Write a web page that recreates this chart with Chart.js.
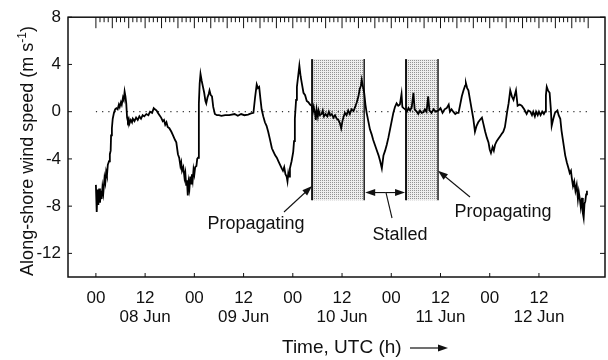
<!DOCTYPE html>
<html>
<head>
<meta charset="utf-8">
<script src="https://cdn.jsdelivr.net/npm/chart.js@4"></script>
<style>
  html, body { margin: 0; padding: 0; background: #fff; }
  #wrap { width: 608px; height: 360px; }
</style>
</head>
<body>
<div id="wrap"><canvas id="windChart" width="608" height="360"></canvas></div>
<script>
// Along-shore wind speed, hours after 08 Jun 00 UTC
const hours = [
  0.0, 0.2, 0.4, 0.6, 0.8, 1.0, 1.2, 1.4, 1.6, 1.8, 2.1, 2.3, 2.5, 2.7, 2.9, 3.2, 3.4, 3.6, 3.7, 3.9,
  4.1, 4.4, 4.7, 5.0, 5.3, 5.6, 5.8, 6.1, 6.3, 6.6, 6.8, 7.0, 7.2, 7.4, 7.6, 7.8, 8.0, 8.2, 8.5, 8.8,
  9.0, 9.4, 9.8, 10.2, 10.6, 11.0, 11.4, 11.8, 12.3, 12.8, 13.2, 13.7, 14.1, 14.4, 14.8, 15.1, 15.5, 15.9, 16.3, 16.6,
  16.9, 17.2, 17.5, 17.9, 18.4, 18.8, 19.3, 19.6, 20.0, 20.3, 20.6, 20.8, 21.0, 21.3, 21.6, 21.8, 22.0, 22.2, 22.4, 22.6,
  22.8, 23.0, 23.2, 23.4, 23.6, 23.8, 24.0, 24.2, 24.5, 24.7, 24.9, 25.1, 25.3, 25.5, 25.8, 26.1, 26.4, 26.7, 26.9, 27.2,
  27.5, 27.7, 28.0, 28.3, 28.6, 29.0, 29.5, 30.0, 30.6, 31.5, 32.5, 33.8, 34.6, 35.4, 36.2, 37.1, 37.8, 38.4, 38.8, 39.2,
  39.5, 39.8, 40.1, 40.4, 40.8, 41.2, 41.6, 42.0, 42.4, 42.9, 43.3, 43.7, 44.1, 44.5, 44.9, 45.3, 45.6, 45.9, 46.2, 46.5,
  46.7, 46.9, 47.1, 47.3, 47.7, 48.1, 48.3, 48.5, 48.8, 49.0, 49.3, 49.6, 49.9, 50.2, 50.6, 51.0, 51.4, 51.8, 52.2, 52.6,
  52.9, 53.1, 53.4, 53.6, 53.8, 54.1, 54.3, 54.6, 55.0, 55.3, 55.6, 56.0, 56.4, 56.8, 57.1, 57.5, 57.9, 58.3, 58.7, 59.1,
  59.5, 59.8, 60.1, 60.4, 60.7, 61.1, 61.5, 61.9, 62.3, 62.8, 63.2, 63.6, 64.0, 64.3, 64.6, 64.8, 65.1, 65.4, 65.7, 66.0,
  66.4, 66.8, 67.2, 67.6, 68.0, 68.4, 68.9, 69.3, 69.7, 70.1, 70.5, 70.9, 71.3, 71.7, 72.1, 72.5, 72.9, 73.3, 73.7, 74.1,
  74.5, 74.7, 75.0, 75.4, 75.8, 76.2, 76.6, 77.0, 77.4, 77.7, 78.2, 78.6, 79.0, 79.4, 79.8, 80.2, 80.6, 81.0, 81.3, 81.8,
  82.3, 82.8, 83.5, 84.0, 84.5, 85.0, 85.5, 86.0, 86.3, 86.7, 87.1, 87.6, 88.0, 88.4, 88.8, 89.2, 89.6, 90.0, 90.2, 90.5,
  90.8, 91.2, 91.6, 92.0, 92.4, 92.8, 93.2, 93.6, 94.1, 94.5, 94.9, 95.3, 95.7, 96.0, 96.3, 96.7, 97.0, 97.3, 97.7, 98.1,
  98.5, 98.9, 99.3, 99.7, 100.0, 100.3, 100.6, 101.0, 101.4, 101.8, 102.1, 102.4, 102.8, 103.3, 103.8, 104.4, 105.0, 105.4, 105.9, 106.3,
  106.6, 107.0, 107.3, 107.7, 108.0, 108.4, 108.8, 109.2, 109.5, 109.7, 109.9, 110.2, 110.6, 110.9, 111.1, 111.5, 111.9, 112.2, 112.5, 112.8,
  113.2, 113.5, 113.8, 114.1, 114.4, 114.8, 115.2, 115.5, 115.8, 116.0, 116.3, 116.6, 116.9, 117.2, 117.5, 117.7, 118.0, 118.2, 118.5, 118.7,
  118.9, 119.1, 119.3, 119.5, 119.7
];
const speed = [
  -6.2, -8.5, -6.6, -7.9, -6.5, -7.7, -6.7, -7.4, -6.4, -6.9, -5.6, -6.0, -5.1, -5.4, -4.5, -4.2, -3.6, -3.3, -2.0, -1.4,
  -0.6, -0.1, 0.2, 0.3, 0.2, 0.6, 0.4, 0.8, 0.6, 1.2, 1.0, 1.7, 1.3, 0.7, -0.5, -0.8, -0.6, -1.0, -0.7, -0.9,
  -0.6, -0.8, -0.5, -0.7, -0.4, -0.6, -0.3, -0.4, -0.2, -0.3, 0.0, -0.1, 0.3, 0.2, 0.1, -0.1, -0.3, -0.5, -0.8, -0.7,
  -1.1, -0.9, -1.3, -1.4, -1.7, -2.0, -2.4, -2.6, -3.6, -3.9, -4.6, -4.3, -5.0, -4.7, -5.6, -5.2, -6.2, -5.8, -7.1, -6.0,
  -6.5, -5.5, -6.1, -5.3, -5.8, -4.9, -5.3, -4.7, -4.6, -4.0, -3.9, 0.7, 2.4, 3.2, 2.6, 2.1, 1.6, 0.9, 0.7, 1.2,
  1.5, 1.8, 1.4, 1.3, 0.4, -0.2, -0.3, -0.3, -0.35, -0.3, -0.3, -0.2, -0.35, -0.2, -0.3, -0.25, -0.15, -0.1, 1.2, 2.3,
  2.0, 2.1, 1.1, 0.2, -0.4, -0.9, -1.2, -1.7, -2.3, -3.1, -3.4, -3.7, -3.9, -4.2, -4.5, -4.8, -5.0, -4.7, -5.3, -5.5,
  -5.9, -5.2, -5.5, -4.8, -4.2, -3.4, -2.5, -0.6, 1.0, 2.1, 3.0, 3.9, 3.0, 2.4, 1.6, 1.4, 0.9, 0.8, 0.6, 0.5,
  0.0, 0.4, -0.1, -0.7, 0.2, -0.4, 0.1, -0.3, -0.2, 0.1, -0.4, -0.2, -0.4, 0.0, -0.3, -0.2, -0.5, -0.3, -0.6, -0.7,
  -1.0, -1.4, -0.8, -0.4, -0.1, -0.3, 0.1, -0.2, 0.2, 0.05, 0.4, 0.8, 1.3, 1.9, 2.2, 2.7, 2.1, 1.6, 0.6, -0.1,
  -0.8, -1.5, -1.9, -2.4, -2.8, -3.2, -3.7, -4.2, -4.8, -3.7, -3.3, -2.8, -2.2, -1.5, -0.8, -0.1, 0.4, 0.7, 0.5, 0.6,
  1.5, 0.4, 0.3, 0.2, 0.0, 0.3, 0.1, 0.4, 1.6, 0.2, 0.0, -0.2, 0.1, -0.1, -0.05, 0.2, 0.0, 1.3, 0.1, -0.1,
  0.2, 0.0, 0.1, 0.3, -0.1, 0.2, 0.3, 0.6, 0.0, 0.2, 0.0, -0.2, -0.1, -0.1, 0.6, 1.3, 1.8, 2.2, 2.4, 2.0,
  1.8, 1.0, 0.2, -0.6, -1.7, -1.2, -0.9, -0.7, -0.5, -1.1, -1.7, -2.2, -2.6, -3.2, -3.5, -3.0, -3.3, -2.8, -2.5, -2.3,
  -2.1, -1.9, -1.7, -1.3, -0.6, 0.1, 0.7, 1.8, 1.3, 1.0, 1.4, 1.8, 0.5, 0.6, 0.5, 0.2, -0.2, 0.1, 0.0, -0.3,
  0.0, -0.4, 0.0, -0.3, 0.0, -0.3, 0.0, -0.2, 0.0, 1.4, 2.1, 1.8, 1.6, 0.2, -1.2, -0.6, -0.1, 0.0, 0.1, -0.3,
  -0.6, -1.6, -2.3, -3.0, -3.7, -4.3, -4.8, -5.2, -5.0, -5.6, -6.3, -5.9, -6.7, -6.2, -7.4, -6.8, -7.5, -8.1, -7.3, -8.6,
  -9.0, -7.8, -7.6, -7.0, -6.7
];

// shaded periods (hours) and their vertical extent (m/s)
const shadeStart = [52.7, 75.6];
const shadeEnd = [65.4, 83.4];
const shadeTop = 4.45;
const shadeBottom = -7.5;

const xTicks = [0, 12, 24, 36, 48, 60, 72, 84, 96, 108];
const hourLabels = ['00', '12', '00', '12', '00', '12', '00', '12', '00', '12'];
const dayLabels = ['', '08 Jun', '', '09 Jun', '', '10 Jun', '', '11 Jun', '', '12 Jun'];
const yTicks = [-12, -8, -4, 0, 4, 8];
const zeroLineSpan = [0, 119.7];

const FONT = '"Liberation Sans", Arial, Helvetica, sans-serif';
const INK = '#111';

function stipple() {
    const c = document.createElement('canvas');
    c.width = 2; c.height = 2;
    const g = c.getContext('2d');
    g.fillStyle = '#eeeeee';
    g.fillRect(0, 0, 2, 2);
    g.fillStyle = '#939393';
    g.fillRect(0, 0, 1, 1);
    return c;
}

function arrow(ctx, x1, y1, x2, y2) {
    const a = Math.atan2(y2 - y1, x2 - x1);
    const len = 10, w = 3.5;
    ctx.beginPath();
    ctx.moveTo(x1, y1);
    ctx.lineTo(x2 - Math.cos(a) * len * 0.8, y2 - Math.sin(a) * len * 0.8);
    ctx.stroke();
    ctx.beginPath();
    ctx.moveTo(x2, y2);
    ctx.lineTo(x2 - Math.cos(a) * len - Math.sin(a) * w, y2 - Math.sin(a) * len + Math.cos(a) * w);
    ctx.lineTo(x2 - Math.cos(a) * len + Math.sin(a) * w, y2 - Math.sin(a) * len - Math.cos(a) * w);
    ctx.closePath();
    ctx.fill();
}

const shadePlugin = {
    id: 'shade',
    beforeDatasetsDraw(chart) {
        const { ctx, scales: { x, y } } = chart;
        ctx.save();
        ctx.fillStyle = ctx.createPattern(stipple(), 'repeat');
        const yt = y.getPixelForValue(shadeTop), yb = y.getPixelForValue(shadeBottom);
        shadeStart.forEach((s, i) => {
            const xl = x.getPixelForValue(s), xr = x.getPixelForValue(shadeEnd[i]);
            ctx.fillRect(xl, yt, xr - xl, yb - yt);
            ctx.strokeStyle = INK;
            ctx.lineWidth = 2;
            ctx.beginPath(); ctx.moveTo(xl, yt); ctx.lineTo(xl, yb); ctx.stroke();
            ctx.lineWidth = 1.4;
            ctx.beginPath(); ctx.moveTo(xr, yt); ctx.lineTo(xr, yb); ctx.stroke();
        });
        ctx.restore();
    }
};

const framePlugin = {
    id: 'frame',
    afterDraw(chart) {
        const { ctx, chartArea: a, scales: { x, y } } = chart;
        ctx.save();
        ctx.strokeStyle = INK;
        ctx.fillStyle = INK;
        ctx.lineWidth = 1.5;
        ctx.strokeRect(a.left, a.top, a.right - a.left, a.bottom - a.top);

        // ticks pointing inward
        ctx.lineWidth = 1;
        ctx.beginPath();
        yTicks.forEach(v => {
            const py = y.getPixelForValue(v);
            ctx.moveTo(a.left, py); ctx.lineTo(a.left + 4, py);
            ctx.moveTo(a.right, py); ctx.lineTo(a.right - 5, py);
        });
        for (let h = 0; h <= 120; h++) {
            const px = x.getPixelForValue(h);
            ctx.moveTo(px, a.top);
            ctx.lineTo(px, a.top + (h % 4 === 0 ? 11 : 5));
        }
        xTicks.forEach(h => {
            const px = x.getPixelForValue(h);
            ctx.moveTo(px, a.bottom); ctx.lineTo(px, a.bottom - 4);
        });
        ctx.stroke();

        // y axis title with superscript
        ctx.font = '18px ' + FONT;
        const main = 'Along-shore wind speed (m s';
        ctx.save();
        ctx.font = '12px ' + FONT;
        const supW = ctx.measureText('-1').width;
        ctx.restore();
        const mainW = ctx.measureText(main).width;
        const closeW = ctx.measureText(')').width;
        const total = mainW + supW + closeW;
        ctx.save();
        ctx.translate(33, 151);
        ctx.rotate(-Math.PI / 2);
        ctx.textBaseline = 'alphabetic';
        ctx.textAlign = 'left';
        let sx = -total / 2;
        ctx.fillText(main, sx, 0);
        sx += mainW;
        ctx.font = '12px ' + FONT;
        ctx.fillText('-1', sx, -7);
        sx += supW;
        ctx.font = '18px ' + FONT;
        ctx.fillText(')', sx, 0);
        ctx.restore();

        // x axis title and arrow
        ctx.font = '19px ' + FONT;
        ctx.textBaseline = 'middle';
        ctx.textAlign = 'left';
        ctx.fillText('Time, UTC (h)', 282, 348);
        ctx.lineWidth = 1.2;
        arrow(ctx, 410, 348, 448, 348);

        // annotations
        const b1l = x.getPixelForValue(shadeStart[0]);
        const b1r = x.getPixelForValue(shadeEnd[0]);
        const b2l = x.getPixelForValue(shadeStart[1]);
        const b2r = x.getPixelForValue(shadeEnd[1]);
        ctx.font = '18px ' + FONT;
        ctx.textAlign = 'center';
        ctx.fillText('Propagating', 256, 224);
        ctx.fillText('Stalled', 400, 235);
        ctx.fillText('Propagating', 503, 212);
        ctx.lineWidth = 1.1;
        arrow(ctx, 284, 212, b1l, y.getPixelForValue(-6.3));
        arrow(ctx, 470, 197, b2r, y.getPixelForValue(-5.0));
        const ys = y.getPixelForValue(-6.85);
        const mid = (b1r + b2l) / 2;
        arrow(ctx, mid, ys, b1r + 1, ys);
        arrow(ctx, mid, ys, b2l - 1, ys);
        ctx.beginPath();
        ctx.moveTo(392, 218);
        ctx.lineTo(386, ys);
        ctx.stroke();
        ctx.restore();
    }
};

new Chart(document.getElementById('windChart'), {
    type: 'line',
    data: {
        datasets: [
            {
                data: hours.map((h, i) => ({ x: h, y: speed[i] })),
                borderColor: '#000',
                borderWidth: 1.8,
                pointRadius: 0,
                tension: 0
            },
            {
                data: zeroLineSpan.map(h => ({ x: h, y: 0 })),
                borderColor: '#333',
                borderWidth: 1.2,
                borderDash: [1.2, 5],
                pointRadius: 0
            }
        ]
    },
    options: {
        responsive: false,
        animation: false,
        events: [],
        layout: { padding: { top: 13, right: 3, left: 0, bottom: 0 } },
        plugins: { legend: { display: false }, tooltip: { enabled: false } },
        scales: {
            x: {
                type: 'linear',
                min: -6.8,
                max: 124.1,
                grid: { display: false, drawTicks: false },
                border: { display: false },
                afterBuildTicks: s => { s.ticks = xTicks.map(v => ({ value: v })); },
                afterFit: s => { s.height = 83; },
                ticks: {
                    autoSkip: false,
                    maxRotation: 0,
                    padding: 12,
                    color: INK,
                    font: { family: FONT, size: 17, lineHeight: 1.12 },
                    callback: (v, i) => [hourLabels[i], dayLabels[i]]
                }
            },
            y: {
                min: -14,
                max: 8,
                grid: { display: false, drawTicks: false },
                border: { display: false },
                afterBuildTicks: s => { s.ticks = yTicks.map(v => ({ value: v })); },
                afterFit: s => { s.width = 68; },
                ticks: {
                    padding: 7,
                    color: INK,
                    font: { family: FONT, size: 17 }
                }
            }
        }
    },
    plugins: [shadePlugin, framePlugin]
});
</script>
</body>
</html>
